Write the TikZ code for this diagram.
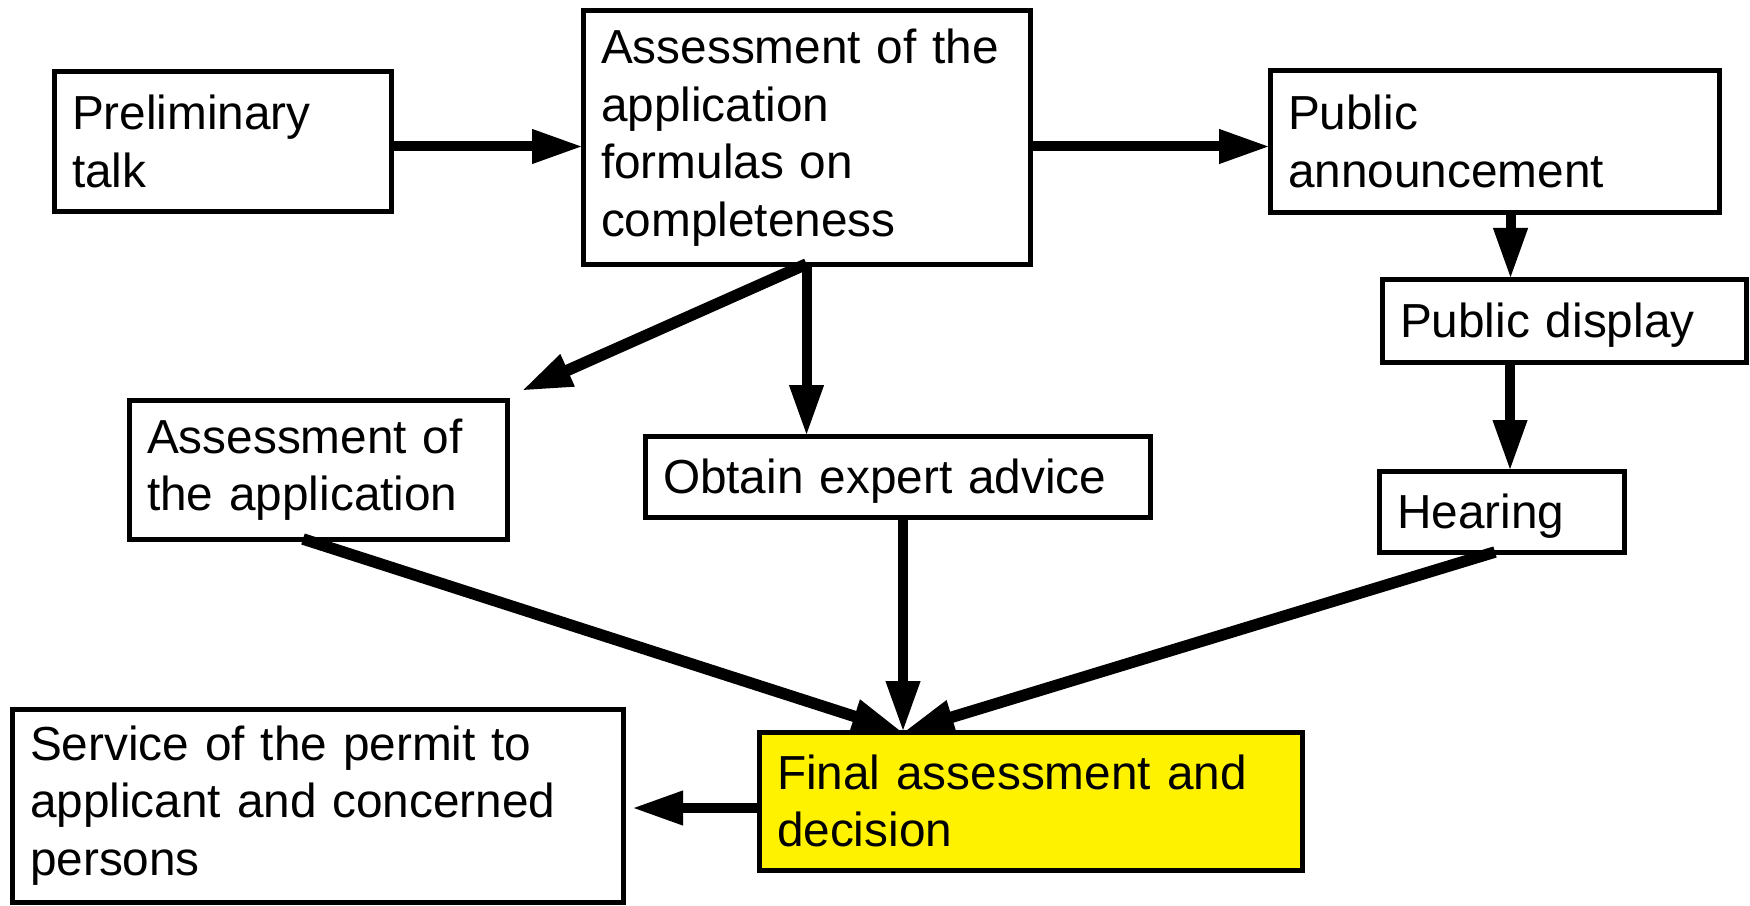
\documentclass[tikz,border=0pt]{standalone}
\usepackage{fontspec}
\setmainfont{Liberation Sans}
\usetikzlibrary{arrows.meta,calc}
\begin{document}
\begin{tikzpicture}[x=0.4pt,y=-0.4pt,
  box/.style={draw, line width=2pt, align=left, anchor=north west, inner xsep=7.2pt, inner ysep=0pt, outer sep=0pt, font=\fontsize{19.1}{23}\selectfont},
  onebox/.style={box, text depth=0pt},
  arr/.style={line width=4pt, -{Triangle[length=20.4pt,width=12.8pt]}},
  darr/.style={arr, line width=4.6pt},
  ]
\useasboundingbox (0,0) rectangle (1750,905);
\node[box, text width=120.4pt, minimum height=55.6pt] (prelim) at (54,72) {Preliminary\\talk};
\node[box, text width=164.4pt, minimum height=101.2pt] (assess) at (583,11) {Assessment of the\\application\\formulas on\\completeness};
\node[box, text width=165.2pt, minimum height=56.4pt] (pubann) at (1270,71) {Public\\announcement};
\node[onebox, text width=131.2pt, minimum height=33.2pt] (pubdisp) at (1382,279) {Public display};
\node[onebox, text width=83.6pt, minimum height=32.4pt] (hearing) at (1379,471) {Hearing};
\node[box, text width=136.8pt, minimum height=55.6pt] (assessapp) at (129,400) {Assessment of\\the application};
\node[onebox, text width=187.6pt, minimum height=32.4pt] (obtain) at (645,436) {Obtain expert advice};
\node[box, fill=yellow, text width=202.8pt, minimum height=55.2pt] (final) at (759,732) {Final assessment and\\decision};
\node[box, text width=230pt, minimum height=77.2pt] (service) at (12,709) {Service of the permit to\\applicant and concerned\\persons};

\draw[arr] ([yshift=-2pt]prelim.east) -- ([yshift=-2pt]assess.west |- prelim.east);
\draw[arr] ([yshift=-2pt]assess.east |- pubann.west) -- ([yshift=-2pt]pubann.west);
\draw[arr] ([xshift=6.4pt]pubann.south) -- ([xshift=6.4pt]pubann.south |- pubdisp.north);
\draw[arr] ([xshift=3.4pt]hearing.north |- pubdisp.south) -- ([xshift=3.4pt]hearing.north);
\draw[darr] (assess.south) -- ([shift={(5.6pt,3.6pt)}]assessapp.north east);
\draw[arr] (assess.south) -- (assess.south |- obtain.north);
\draw[darr] ([xshift=-6pt]assessapp.south) -- ([xshift=-51pt]final.north);
\draw[arr] ([xshift=2.2pt]obtain.south) -- ([xshift=2.2pt]obtain.south |- final.north);
\draw[darr] ([xshift=-2.6pt]hearing.south) -- ([xshift=-51pt]final.north);
\draw[arr] ([yshift=-2.8pt]final.west) -- ([shift={(3.6pt,-2.8pt)}]service.east |- final.west);
\end{tikzpicture}
\end{document}
